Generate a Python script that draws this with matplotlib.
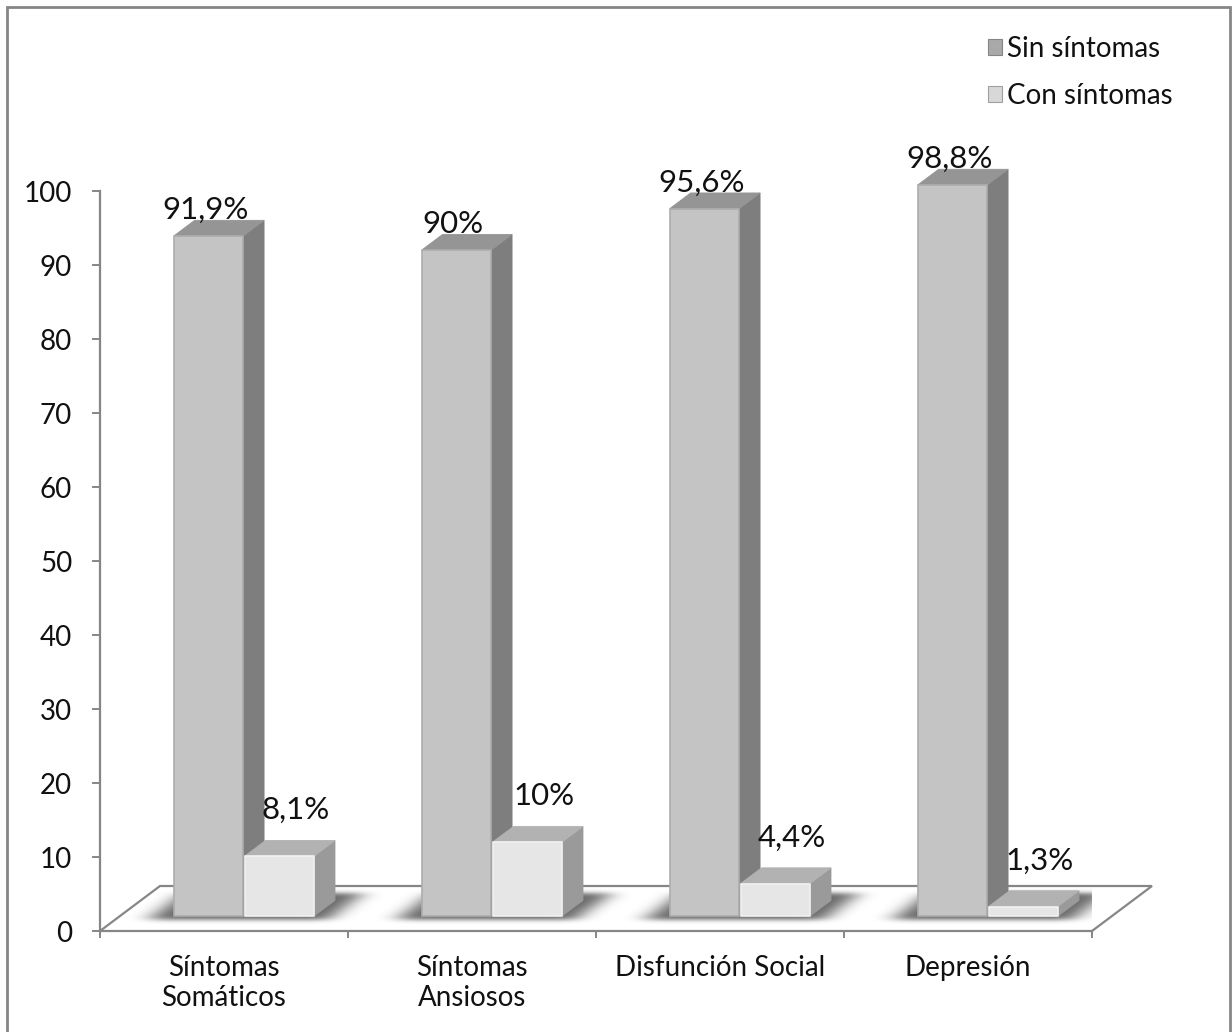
import numpy as np
import matplotlib
matplotlib.use("Agg")
import matplotlib.pyplot as plt
from matplotlib.patches import Polygon, Rectangle, Patch

# ---- data ----
categories = ["Síntomas\nSomáticos", "Síntomas\nAnsiosos", "Disfunción Social", "Depresión"]
series_names = ["Sin síntomas", "Con síntomas"]
sin_sintomas = [91.9, 90.0, 95.6, 98.8]
con_sintomas = [8.1, 10.0, 4.4, 1.3]
sin_labels = ["91,9%", "90%", "95,6%", "98,8%"]
con_labels = ["8,1%", "10%", "4,4%", "1,3%"]
y_ticks = [0, 10, 20, 30, 40, 50, 60, 70, 80, 90, 100]

FONT = ["Lato", "DejaVu Sans"]
plt.rcParams["font.family"] = FONT

W, H = 1232, 1032
fig = plt.figure(figsize=(W / 100, H / 100), dpi=100)

# plot area: value axis from 0 to 100, one unit per category on x
ax = fig.add_axes([100 / W, (H - 931) / H, 992 / W, 740 / H])
ax.set_xlim(0, len(categories))
ax.set_ylim(0, 100)

GRAY = "#868686"
TXT = "#111111"
# oblique depth vector (per unit of floor depth), in data units
DX, DY = 60 / 248, 45 / 7.4
T0, T1 = 0.33, 0.68          # bar depth span inside the floor
BAR_W = 0.286                # bar width in category units
GAP = 0.003

# ---- floor ----
floor = Polygon([(0, 0), (DX, DY), (len(categories) + DX, DY), (len(categories), 0)],
                closed=True, facecolor="white", edgecolor="none", zorder=0.5, clip_on=False)
ax.add_patch(floor)
ax.plot([0, DX, len(categories) + DX, len(categories)], [0, DY, DY, 0],
        color=GRAY, lw=1.6, zorder=0.8, clip_on=False, solid_joinstyle="miter")

# ---- soft floor shadow under each pair of bars ----
xs = np.linspace(-0.1, len(categories) + 0.4, 1120)
ys = np.linspace(-1.0, DY + 1.0, 80)
XX, YY = np.meshgrid(xs, ys)
mask = np.zeros_like(XX)
inside_depth = (YY >= (T0 - 0.08) * DY) & (YY <= (T1 + 0.15) * DY)
XP = XX - (YY / DY) * DX
for i in range(len(categories)):
    a = i + 0.5 - BAR_W - 0.08
    b = i + 0.5 + BAR_W + 0.07
    mask[inside_depth & (XP >= a) & (XP <= b)] = 1.0


def gauss_blur(arr, sx, sy):
    def kern(s):
        r = int(3 * s)
        k = np.exp(-0.5 * (np.arange(-r, r + 1) / s) ** 2)
        return k / k.sum()
    kx, ky = kern(sx), kern(sy)
    out = np.apply_along_axis(lambda m: np.convolve(m, kx, mode="same"), 1, arr)
    out = np.apply_along_axis(lambda m: np.convolve(m, ky, mode="same"), 0, out)
    return out


shadow = gauss_blur(mask, 11, 3)
rgba = np.zeros(shadow.shape + (4,))
rgba[..., 3] = np.clip(shadow * 0.6, 0, 1)
im = ax.imshow(rgba, extent=(xs[0], xs[-1], ys[0], ys[-1]), origin="lower",
               aspect="auto", zorder=0.9, interpolation="bilinear")
im.set_clip_path(floor)
ax.set_xlim(0, len(categories))
ax.set_ylim(0, 100)


# ---- 3D bars ----
def draw_bar(a, b, v, front, side, top, edge):
    fx0, fy0 = T0 * DX, T0 * DY
    bx0, by0 = T1 * DX, T1 * DY
    front_poly = [(a + fx0, fy0), (b + fx0, fy0), (b + fx0, v + fy0), (a + fx0, v + fy0)]
    side_poly = [(b + fx0, fy0), (b + bx0, by0), (b + bx0, v + by0), (b + fx0, v + fy0)]
    top_poly = [(a + fx0, v + fy0), (b + fx0, v + fy0), (b + bx0, v + by0), (a + bx0, v + by0)]
    ax.add_patch(Polygon(side_poly, closed=True, facecolor=side, edgecolor=side,
                         lw=0.6, zorder=2, clip_on=False))
    ax.add_patch(Polygon(top_poly, closed=True, facecolor=top, edgecolor=top,
                         lw=0.6, zorder=2, clip_on=False))
    ax.add_patch(Polygon(front_poly, closed=True, facecolor=front, edgecolor=edge,
                         lw=1.2, zorder=2, clip_on=False, joinstyle="round"))


SIN_COL = dict(front="#c4c4c4", side="#7e7e7e", top="#959595", edge="#adadad")
CON_COL = dict(front="#e6e6e6", side="#9a9a9a", top="#b2b2b2", edge="#f2f2f2")

for i in range(len(categories)):
    draw_bar(i + 0.5 - BAR_W + GAP, i + 0.5 - GAP, sin_sintomas[i], **SIN_COL)
    draw_bar(i + 0.5 + GAP, i + 0.5 + BAR_W - GAP, con_sintomas[i], **CON_COL)

# ---- data labels ----
for i in range(len(categories)):
    ax.text(i + 0.425, sin_sintomas[i] + 4.3, sin_labels[i], ha="center", va="baseline",
            fontsize=22.5, color=TXT, zorder=5, clip_on=False)
    ax.text(i + 0.79, con_sintomas[i] + 7.0, con_labels[i], ha="center", va="baseline",
            fontsize=22.5, color=TXT, zorder=5, clip_on=False)

# ---- axes styling ----
for s in ["top", "right"]:
    ax.spines[s].set_visible(False)
for s in ["left", "bottom"]:
    ax.spines[s].set_color(GRAY)
    ax.spines[s].set_linewidth(1.6)
    ax.spines[s].set_zorder(3)

ax.set_yticks(y_ticks)
ax.set_yticklabels([str(t) for t in y_ticks])
ax.tick_params(axis="y", direction="out", length=6, width=1.4, color=GRAY,
               pad=14, labelsize=20, labelcolor=TXT)

ax.set_xticks(range(len(categories) + 1))
ax.set_xticklabels([])
ax.tick_params(axis="x", which="major", direction="out", length=5, width=1.4, color=GRAY)
ax.set_xticks([i + 0.5 for i in range(len(categories))], minor=True)
ax.set_xticklabels(categories, minor=True, fontsize=20, color=TXT, linespacing=1.2)
ax.tick_params(axis="x", which="minor", length=0, pad=17)
ax.set_facecolor("none")

# ---- legend ----
handles = [Patch(facecolor="#a9a9a9", edgecolor="#858585", lw=0.8, label=series_names[0]),
           Patch(facecolor="#d8d8d8", edgecolor="#a0a0a0", lw=0.8, label=series_names[1])]
fig.legend(handles=handles, loc="upper right", bbox_to_anchor=(1184 / W, 1 - 25 / H),
           frameon=False, fontsize=20, handlelength=0.5, handleheight=0.5,
           handletextpad=0.2, labelspacing=0.74, borderaxespad=0, labelcolor=TXT)

# ---- chart border ----
fig.patches.append(Rectangle((7 / W, -0.01), 1223 / W, 1 - 7 / H + 0.01,
                             transform=fig.transFigure, fill=False,
                             edgecolor=GRAY, lw=2))

fig.savefig("out.png", dpi=100, facecolor="white")
